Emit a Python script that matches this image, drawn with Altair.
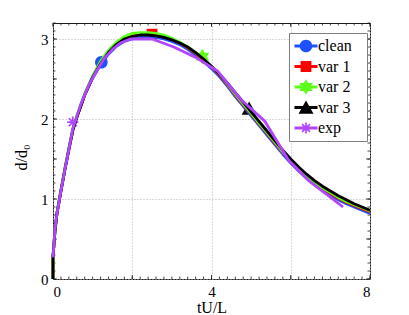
import math
import altair as alt
import pandas as pd

# ---------------- data ----------------
series = ["clean", "var 1", "var 2", "var 3", "exp"]
colors = ["#1f50ff", "#ff0000", "#5cff1a", "#000000", "#b245ff"]

model_x = [0, 0, 0.05, 0.1, 0.2, 0.3, 0.4, 0.5, 0.6, 0.8, 1.0, 1.2, 1.4, 1.6, 1.8,
           2.0, 2.2, 2.4, 2.6, 2.8, 3.0, 3.2, 3.4, 3.6, 3.8, 4.0, 4.2, 4.4, 4.6,
           4.8, 5.0, 5.2, 5.4, 5.6, 5.8, 6.0, 6.2, 6.4, 6.6, 6.8, 7.0, 7.2, 7.4,
           7.6, 7.8, 8.0]
clean_y = [0, 0.28, 0.6, 0.82, 1.1, 1.37, 1.62, 1.86, 2.02, 2.3, 2.51, 2.68, 2.81,
           2.91, 2.97, 3.0, 3.02, 3.03, 3.02, 3.0, 2.97, 2.93, 2.87, 2.8, 2.72,
           2.63, 2.53, 2.41, 2.28, 2.16, 2.04, 1.92, 1.8, 1.68, 1.56, 1.45, 1.35,
           1.26, 1.18, 1.11, 1.05, 0.99, 0.94, 0.9, 0.86, 0.82]
var1_y = [0, 0.28, 0.6, 0.82, 1.1, 1.37, 1.62, 1.86, 2.02, 2.3, 2.52, 2.7, 2.84,
          2.94, 3.01, 3.04, 3.06, 3.06, 3.05, 3.03, 2.99, 2.95, 2.89, 2.82, 2.74,
          2.65, 2.55, 2.43, 2.3, 2.18, 2.06, 1.94, 1.82, 1.7, 1.58, 1.47, 1.37,
          1.28, 1.2, 1.13, 1.07, 1.01, 0.96, 0.92, 0.88, 0.84]
var2_y = [0, 0.28, 0.62, 0.84, 1.12, 1.39, 1.64, 1.88, 2.04, 2.32, 2.54, 2.72, 2.86,
          2.96, 3.03, 3.07, 3.08, 3.08, 3.07, 3.05, 3.01, 2.96, 2.9, 2.83, 2.75,
          2.66, 2.56, 2.44, 2.31, 2.19, 2.07, 1.95, 1.83, 1.71, 1.59, 1.48, 1.38,
          1.29, 1.21, 1.14, 1.08, 1.02, 0.97, 0.93, 0.89, 0.85]
var3_y = [0, 0.28, 0.6, 0.82, 1.1, 1.37, 1.62, 1.86, 2.02, 2.3, 2.52, 2.69, 2.83,
          2.93, 3.0, 3.03, 3.05, 3.05, 3.04, 3.02, 2.99, 2.95, 2.9, 2.83, 2.75,
          2.66, 2.56, 2.45, 2.33, 2.21, 2.09, 1.97, 1.85, 1.73, 1.61, 1.5, 1.4,
          1.31, 1.23, 1.16, 1.1, 1.04, 0.99, 0.94, 0.9, 0.86]
exp_x = [0, 0.05, 0.1, 0.2, 0.3, 0.4, 0.5, 0.7, 0.9, 1.1, 1.3, 1.5, 1.7, 1.95,
         2.5, 3.05, 3.6, 4.15, 4.75, 5.35, 5.95, 6.45, 7.32]
exp_y = [0.27, 0.62, 0.82, 1.1, 1.37, 1.62, 1.88, 2.18, 2.42, 2.6, 2.76, 2.87,
         2.95, 3.0, 3.0, 2.9, 2.77, 2.6, 2.24, 1.97, 1.48, 1.23, 0.9]

marker_x = [1.22, 2.5, 3.77, 4.95, 0.5]
marker_y = [2.71, 3.06, 2.78, 2.13, 1.96]

x_domain = [0, 8]
y_domain = [0, 3.2]
x_grid = [0, 2, 4, 6, 8]
y_grid = [0, 0.5, 1, 1.5, 2, 2.5, 3]
x_minor = [round(i * 0.2, 2) for i in range(41)]
y_minor = [round(i * 0.1, 2) for i in range(33)]

# ---------------- style ----------------
W, H = 317, 256
FONT = "Liberation Serif"
FRAME = "#1a1a1a"


def f(v):
    return f"{v:.3f}".rstrip("0").rstrip(".")


def circle_path(cx, r):
    return (f"M{f(cx - r)},0A{f(r)},{f(r)} 0 1,1 {f(cx + r)},0"
            f"A{f(r)},{f(r)} 0 1,1 {f(cx - r)},0Z")


def rect_path(x0, x1, y0, y1):
    return f"M{f(x0)},{f(y0)}H{f(x1)}V{f(y1)}H{f(x0)}Z"


def poly_path(pts):
    return "M" + "L".join(f"{f(x)},{f(y)}" for x, y in pts) + "Z"


def marker_path(kind, k, cx=0.0):
    """Marker outline in symbol units; k = pixels per unit."""
    if kind == "circle":
        return circle_path(cx, 6.3 / k)
    if kind == "square":
        h = 5.4 / k
        return rect_path(cx - h, cx + h, -h, h)
    if kind == "hexagram":
        R = 7.8 / k
        up = [(cx + R * math.cos(math.radians(a)), R * math.sin(math.radians(a)))
              for a in (-90, 30, 150)]
        dn = [(cx + R * math.cos(math.radians(a)), R * math.sin(math.radians(a)))
              for a in (90, 210, 330)]
        return poly_path(up) + poly_path(dn)
    if kind == "triangle":
        w, t, b = 7.5 / k, -7.0 / k, 6.2 / k
        return poly_path([(cx, t), (cx + w, b), (cx - w, b)])
    if kind == "asterisk":
        L, T = 5.6 / k, 0.85 / k
        out = ""
        for a in (0, 45, 90, 135):
            c, s = math.cos(math.radians(a)), math.sin(math.radians(a))
            corners = [(-L, -T), (L, -T), (L, T), (-L, T)]
            out += poly_path([(cx + x * c - y * s, x * s + y * c) for x, y in corners])
        return out
    return ""


kinds = ["circle", "square", "hexagram", "triangle", "asterisk"]

MARK_SIZE = 196          # 7 px per unit
LEG_SIZE = 256           # 8 px per unit
leg_k = math.sqrt(LEG_SIZE) / 2
shift = 4.0 / leg_k
reach = 60.0 / leg_k     # empty point that widens the legend box to the right
legend_paths = [
    rect_path(shift - 11.5 / leg_k, shift + 11.5 / leg_k, -1.5 / leg_k, 1.5 / leg_k)
    + marker_path(kd, leg_k, shift)
    + f"M{f(reach)},0L{f(reach)},0Z"
    for kd in kinds
]

color_scale = alt.Scale(domain=series, range=colors)
xscale = alt.Scale(domain=x_domain, nice=False, zero=False)
yscale = alt.Scale(domain=y_domain, nice=False, zero=False)

x_axis = alt.Axis(values=x_grid, labelExpr="datum.value % 4 == 0 ? datum.label : ''",
                  title="tU/L", grid=True, gridDash=[1, 2], gridColor="#b4b4b4",
                  gridWidth=1, ticks=False, domain=False, labelFont=FONT,
                  labelFontSize=15, labelColor="black", labelPadding=5,
                  titleFont=FONT, titleFontSize=16, titleFontWeight="normal",
                  titleColor="black", titleBaseline="top", titleY=20, format="d")
y_axis = alt.Axis(values=y_grid, labelExpr="datum.value % 1 == 0 ? datum.label : ''",
                  title="d/d₀", grid=True, gridDash=[1, 2], gridColor="#b4b4b4",
                  gridWidth=1, ticks=False, domain=False, labelFont=FONT,
                  labelFontSize=15, labelColor="black", labelPadding=5,
                  titleFont=FONT, titleFontSize=16, titleFontWeight="normal",
                  titleColor="black", titleX=-24, titleY=134, format="d")


def X(field):
    return alt.X(f"{field}:Q", scale=xscale, axis=x_axis)


def Y(field):
    return alt.Y(f"{field}:Q", scale=yscale, axis=y_axis)


# ---------------- tables ----------------
model_ys = [clean_y, var1_y, var2_y, var3_y]
line_tables = []
for name, ys in zip(series[:4], model_ys):
    line_tables.append(pd.DataFrame({"x": model_x, "y": ys, "series": name,
                                     "i": list(range(len(model_x)))}))
line_tables.append(pd.DataFrame({"x": exp_x, "y": exp_y, "series": "exp",
                                 "i": list(range(len(exp_x)))}))

markers = pd.DataFrame({"x": marker_x, "y": marker_y, "series": series})

layers = []

# tick marks (inside the box, on all four sides)
xt = pd.DataFrame({"v": x_minor})
yt = pd.DataFrame({"v": y_minor})
xM = pd.DataFrame({"v": x_grid})
yM = pd.DataFrame({"v": y_grid})
tick_style = dict(color=FRAME, strokeWidth=0.8)
layers += [
    alt.Chart(xt).mark_rule(**tick_style).encode(x=X("v"), y=alt.value(H), y2=alt.value(H - 2.5)),
    alt.Chart(xt).mark_rule(**tick_style).encode(x=X("v"), y=alt.value(0), y2=alt.value(2.5)),
    alt.Chart(xM).mark_rule(**tick_style).encode(x=X("v"), y=alt.value(H), y2=alt.value(H - 4)),
    alt.Chart(xM).mark_rule(**tick_style).encode(x=X("v"), y=alt.value(0), y2=alt.value(4)),
    alt.Chart(yt).mark_rule(**tick_style).encode(y=Y("v"), x=alt.value(0), x2=alt.value(2.5)),
    alt.Chart(yt).mark_rule(**tick_style).encode(y=Y("v"), x=alt.value(W), x2=alt.value(W - 2.5)),
    alt.Chart(yM).mark_rule(**tick_style).encode(y=Y("v"), x=alt.value(0), x2=alt.value(4)),
    alt.Chart(yM).mark_rule(**tick_style).encode(y=Y("v"), x=alt.value(W), x2=alt.value(W - 4)),
]

# markers (drawn beneath the lines)
mark_k = math.sqrt(MARK_SIZE) / 2
for name, col, kd in zip(series, colors, kinds):
    layers.append(
        alt.Chart(markers[markers["series"] == name]).mark_point(
            shape=marker_path(kd, mark_k), filled=True, size=MARK_SIZE,
            color=col, opacity=1, strokeWidth=0
        ).encode(x=X("x"), y=Y("y"))
    )

# lines
for tbl, col in zip(line_tables, colors):
    layers.append(
        alt.Chart(tbl).mark_line(strokeWidth=2.8, strokeJoin="round", strokeCap="butt",
                                 color=col).encode(
            x=X("x"), y=Y("y"),
            order=alt.Order("i:Q"),
        )
    )

# legend (invisible carrier layer)
legend_def = alt.Legend(
    orient="none", legendX=236, legendY=10, title=None,
    labelFont=FONT, labelFontSize=16, labelColor="black", labelOffset=8,
    symbolSize=LEG_SIZE, symbolStrokeWidth=0, symbolOpacity=1,
    padding=5, rowPadding=4.5, strokeColor="#7f7f7f", fillColor="white",
    cornerRadius=0,
)
layers.append(
    alt.Chart(markers).mark_point(filled=True, opacity=0).encode(
        x=X("x"), y=Y("y"),
        color=alt.Color("series:N", scale=color_scale, legend=legend_def),
        shape=alt.Shape("series:N", scale=alt.Scale(domain=series, range=legend_paths),
                        legend=legend_def),
    )
)

chart = alt.layer(*layers).properties(
    width=W, height=H,
    autosize=alt.AutoSizeParams(type="none"),
    padding={"left": 45, "top": 15, "right": 30, "bottom": 36},
    background="white",
).configure_view(
    stroke=FRAME, strokeWidth=1
).configure_legend(
    labelFont=FONT, labelFontSize=16, labelColor="black"
)

chart.save("out.html", embed_options={"renderer": "svg", "actions": False})
